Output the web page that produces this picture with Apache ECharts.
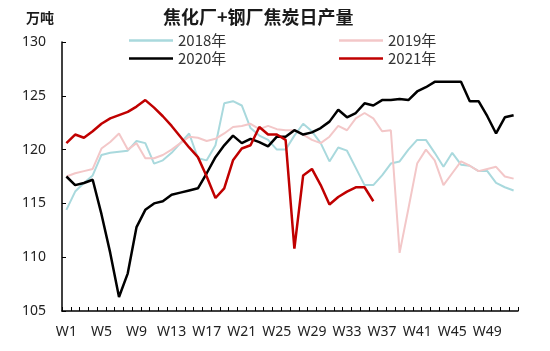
<!DOCTYPE html>
<html>
<head>
<meta charset="utf-8">
<script src="https://cdn.jsdelivr.net/npm/echarts@6/dist/echarts.min.js"></script>
<style>
  html, body { margin: 0; padding: 0; background: #fff; }
  #chart { width: 550px; height: 351px; }
</style>
</head>
<body>
<div id="chart"></div>
<script>
// week labels W1..W52
const weeks = []
for (let i = 1; i <= 52; i++) weeks.push('W' + i)

// daily coke output, 10k tonnes
const y2018 = [114.4, 116.1, 116.9, 117.6, 119.5, 119.7, 119.8, 119.9, 120.8, 120.6,
  118.7, 119.0, 119.7, 120.6, 121.5, 119.2, 119.0, 120.4, 124.3, 124.5,
  124.1, 122.0, 121.3, 120.9, 120.0, 120.0, 121.3, 122.4, 121.7, 120.6,
  118.9, 120.2, 119.9, 118.3, 116.7, 116.7, 117.6, 118.7, 118.9, 120.0,
  120.9, 120.9, 119.7, 118.4, 119.7, 118.6, 118.5, 118.0, 118.0, 116.9,
  116.5, 116.2]
const y2019 = [117.5, 117.8, 118.0, 118.2, 120.1, 120.7, 121.5, 120.0, 120.6, 119.2,
  119.2, 119.5, 120.0, 120.6, 121.2, 121.1, 120.8, 121.0, 121.5, 122.1,
  122.2, 122.4, 121.9, 122.2, 121.9, 121.8, 121.8, 121.4, 120.9, 120.6,
  121.2, 122.2, 121.8, 122.9, 123.4, 122.9, 121.7, 121.8, 110.4, 114.5,
  118.7, 120.0, 119.0, 116.7, 117.8, 118.9, 118.5, 118.0, 118.2, 118.4,
  117.5, 117.3]
const y2020 = [117.5, 116.7, 116.9, 117.2, 114.0, 110.4, 106.3, 108.5, 112.8, 114.4,
  115.0, 115.2, 115.8, 116.0, 116.2, 116.4, 117.8, 119.3, 120.4, 121.3,
  120.6, 121.0, 120.7, 120.3, 121.2, 121.2, 121.8, 121.4, 121.6, 122.0,
  122.6, 123.7, 123.0, 123.4, 124.3, 124.1, 124.6, 124.6, 124.7, 124.6,
  125.4, 125.8, 126.3, 126.3, 126.3, 126.3, 124.5, 124.5, 123.1, 121.5,
  123.0, 123.2]
const y2021 = [120.6, 121.4, 121.1, 121.7, 122.4, 122.9, 123.2, 123.5, 124.0, 124.6,
  123.9, 123.1, 122.2, 121.2, 120.2, 119.3, 117.5, 115.5, 116.4, 119.0,
  120.1, 120.4, 122.1, 121.4, 121.4, 120.9, 110.8, 117.6, 118.2, 116.7,
  114.9, 115.6, 116.1, 116.5, 116.5, 115.2]

const seriesNames = ['2018年', '2019年', '2020年', '2021年']
const seriesColors = ['#a9d9dd', '#f3c7c8', '#000000', '#c00000']
const seriesData = [y2018, y2019, y2020, y2021]
const lineWidths = [2, 2, 2.5, 2.5]

const chart = echarts.init(document.getElementById('chart'))

const numFont = '"Noto Sans", sans-serif'
const cjkFont = '"Noto Sans CJK SC", sans-serif'

// one legend per item so they sit in the 2x2 layout
const legendPos = [[124, 28], [334, 28], [124, 46], [334, 46]]

const option = {
  animation: false,
  title: [
    {
      text: '焦化厂+钢厂焦炭日产量',
      left: 158,
      top: 3,
      textStyle: { fontFamily: cjkFont, fontSize: 18, fontWeight: 'bold', color: '#1a1a1a' }
    },
    {
      text: '万吨',
      left: 21,
      top: 6,
      textStyle: { fontFamily: cjkFont, fontSize: 14, fontWeight: 'bold', color: '#1a1a1a' }
    }
  ],
  legend: seriesNames.map((name, i) => ({
    data: [name],
    left: legendPos[i][0],
    top: legendPos[i][1],
    icon: 'rect',
    itemWidth: 44,
    itemHeight: 2.5,
    itemGap: 4,
    textStyle: { fontFamily: cjkFont, fontSize: 15, color: '#333' }
  })),
  grid: { left: 62, right: 32, top: 42, bottom: 40, containLabel: false },
  xAxis: {
    type: 'category',
    data: weeks,
    boundaryGap: true,
    axisLine: { lineStyle: { color: '#000', width: 1.5 } },
    axisTick: { show: true, inside: true, length: 4, interval: 0, lineStyle: { color: '#000' } },
    axisLabel: { interval: 3, margin: 14, fontFamily: numFont, fontSize: 14, color: '#222' },
    splitLine: { show: false }
  },
  yAxis: {
    type: 'value',
    min: 105,
    max: 130,
    interval: 5,
    axisLine: { show: true, lineStyle: { color: '#000', width: 1.5 } },
    axisTick: { show: true, inside: true, length: 4, lineStyle: { color: '#000' } },
    axisLabel: { margin: 16, fontFamily: numFont, fontSize: 14, color: '#222' },
    splitLine: { show: false }
  },
  series: seriesNames.map((name, i) => ({
    name: name,
    type: 'line',
    data: seriesData[i],
    showSymbol: false,
    symbol: 'none',
    z: i,
    lineStyle: { color: seriesColors[i], width: lineWidths[i] },
    itemStyle: { color: seriesColors[i] }
  }))
}

chart.setOption(option)
</script>
</body>
</html>
